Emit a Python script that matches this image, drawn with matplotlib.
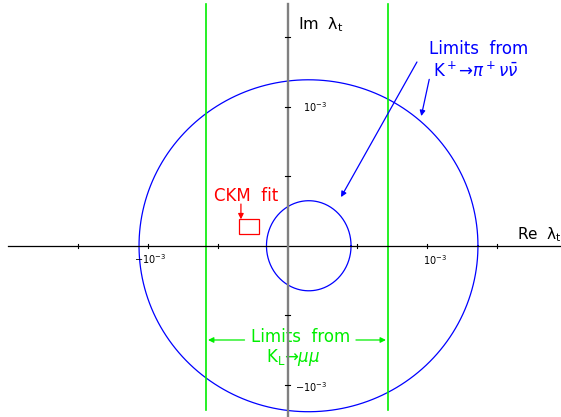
import numpy as np
import matplotlib
matplotlib.use("Agg")
import matplotlib.pyplot as plt
from matplotlib.patches import Rectangle

# values in units of 1e-3
SCALE = 1e-3
big_circle = dict(cx=0.149, cy=0.0, rx=1.214, ry=1.194)     # K+ -> pi+ nu nubar outer
small_circle = dict(cx=0.151, cy=0.0, rx=0.303, ry=0.324)   # K+ -> pi+ nu nubar inner
green_limits = [-0.583, 0.718]                               # KL -> mu mu
ckm_box = dict(x0=-0.349, x1=-0.206, y0=0.084, y1=0.190)
x_ticks = [-1.5, -1.0, -0.5, 0.5, 1.0, 1.5]
y_ticks = [-1.0, -0.5, 0.5, 1.0, 1.5]

BLUE = "#0000ff"
GREEN = "#00ee00"
RED = "#ff0000"

fig = plt.figure(figsize=(5.61, 4.17), dpi=100)
ax = fig.add_axes([0, 0, 1, 1])
ax.set_xlim(-2.061, 1.958)
ax.set_ylim(-1.232, 1.768)
ax.axis("off")

# axes lines
ax.plot([-2.004, 1.95], [0, 0], color="black", lw=0.9, zorder=3)
ax.plot([0, 0], [-1.3, 1.74], color="#808080", lw=1.7, zorder=4)
for t in x_ticks:
    ax.plot([t, t], [-0.016, 0.016], color="black", lw=0.8, zorder=3)
for t in y_ticks:
    ax.plot([-0.016, 0.016], [t, t], color="black", lw=0.8, zorder=5)

# tick labels
tl = dict(fontsize=7, color="black")
ax.text(0.11, 1.0, r"$10^{-3}$", ha="left", va="center", **tl)
ax.text(0.055, -1.016, r"$-10^{-3}$", ha="left", va="center", **tl)
ax.text(-0.987, -0.096, r"$-10^{-3}$", ha="center", va="center", **tl)
ax.text(1.055, -0.103, r"$10^{-3}$", ha="center", va="center", **tl)

# axis labels
ax.text(0.074, 1.592, "Im  λ$_\\mathregular{t}$", ha="left", va="center", fontsize=11.5)
ax.text(1.642, 0.081, "Re  λ$_\\mathregular{t}$", ha="left", va="center", fontsize=11)

# circles
th = np.linspace(0, 2 * np.pi, 400)
for c in (big_circle, small_circle):
    ax.plot(c["cx"] + c["rx"] * np.cos(th), c["cy"] + c["ry"] * np.sin(th),
            color=BLUE, lw=0.9, zorder=2)

# green vertical limits
for g in green_limits:
    ax.plot([g, g], [-1.18, 1.74], color=GREEN, lw=1.2, zorder=2)

# CKM box
ax.add_patch(Rectangle((ckm_box["x0"], ckm_box["y0"]),
                       ckm_box["x1"] - ckm_box["x0"], ckm_box["y1"] - ckm_box["y0"],
                       fill=False, edgecolor=RED, lw=0.9, zorder=3))
ax.text(-0.299, 0.358, "CKM  fit", color=RED, ha="center", va="center", fontsize=12)
ap = dict(arrowstyle="-|>", lw=0.9, mutation_scale=8, shrinkA=0, shrinkB=0)
ax.annotate("", xy=(-0.335, 0.190), xytext=(-0.335, 0.300),
            arrowprops=dict(color=RED, **ap))

# blue annotations
ax.text(1.370, 1.412, "Limits  from", color=BLUE, ha="center", va="center", fontsize=12)
ax.text(1.349, 1.257, r"K$^+$→$\pi^+\nu\bar{\nu}$", color=BLUE, ha="center",
        va="center", fontsize=12)
ax.annotate("", xy=(0.382, 0.350), xytext=(0.926, 1.322),
            arrowprops=dict(color=BLUE, **ap))
ax.annotate("", xy=(0.957, 0.933), xytext=(1.014, 1.197),
            arrowprops=dict(color=BLUE, **ap))

# green annotations
ax.text(0.095, -0.660, "Limits  from", color=GREEN, ha="center", va="center", fontsize=12)
ax.text(0.038, -0.801, r"K$_\mathregular{L}$→$\mu\mu$", color=GREEN, ha="center",
        va="center", fontsize=12)
ax.annotate("", xy=(-0.571, -0.678), xytext=(-0.309, -0.678),
            arrowprops=dict(color=GREEN, **ap))
ax.annotate("", xy=(0.704, -0.678), xytext=(0.489, -0.678),
            arrowprops=dict(color=GREEN, **ap))

fig.savefig("out.png", dpi=100)
